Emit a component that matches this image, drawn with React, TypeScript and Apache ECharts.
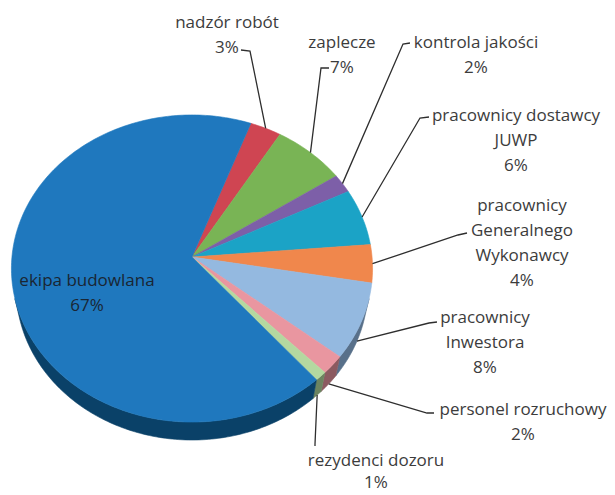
import React, { useEffect, useRef } from 'react';
import * as echarts from 'echarts';

// ---------- data ----------
const CATEGORIES = [
  'nadzór robót',
  'zaplecze',
  'kontrola jakości',
  'pracownicy dostawcy\nJUWP',
  'pracownicy\nGeneralnego\nWykonawcy',
  'pracownicy\nInwestora',
  'personel rozruchowy',
  'rezydenci dozoru',
  'ekipa budowlana',
];
const VALUES = [3, 7, 2, 6, 4, 8, 2, 1, 67];

// ---------- styles ----------
const TOP_COLORS = ['#cf4552', '#79b455', '#7d5fa8', '#1ba3c6', '#f0874c', '#94b9e0', '#e996a0', '#b4d8a0', '#1f78be'];
const SIDE_COLORS = ['#7a2230', '#466e30', '#4a3866', '#0f6078', '#93502b', '#58708a', '#8c5a60', '#6c8460', '#0a4168'];

// ---------- layout ----------
const START_DEG = 69.5; // angle where first slice starts (counter-clockwise from right, world)
const CX = 192;
const CY = 257;
const K = 1273;
const DIST = 7.07;
const SA = 0.848;
const CA = 0.53;
const THICK = 0.226;
const LINE_H = 25;
const FONT = '17px "Open Sans", "Liberation Sans", sans-serif';

// label layout: x = centre, y = centre of first line, leader = [start, elbow], low = anchor at bottom rim
const LABEL_LAYOUT = [
  { x: 227, y: 21, lh: LINE_H, leader: [[241, 50], [250, 51]], low: false },
  { x: 342, y: 41, lh: LINE_H, leader: [[329, 68], [321, 68]], low: false },
  { x: 476, y: 41, lh: LINE_H, leader: [[410, 43], [403, 44]], low: false },
  { x: 516, y: 114, lh: LINE_H, leader: [[429, 117], [420, 118]], low: false },
  { x: 522, y: 204, lh: LINE_H, leader: [[467, 233], [458, 235]], low: false },
  { x: 485, y: 316, lh: LINE_H, leader: [[437, 322], [429, 323]], low: true },
  { x: 523, y: 408, lh: LINE_H, leader: [[434, 413], [427, 413]], low: true },
  { x: 376, y: 459, lh: 22, leader: [[315, 446], [315, 444]], low: true },
  { x: 87, y: 279, lh: LINE_H, leader: null, low: false },
];

const TOTAL = VALUES.reduce((s, v) => s + v, 0);
const CUM: number[] = [];
VALUES.reduce((s, v, i) => {
  CUM[i] = s;
  return s + v;
}, 0);

function project(phiDeg: number, level: number): number[] {
  const p = (phiDeg * Math.PI) / 180;
  const X = Math.cos(p);
  const Z = Math.sin(p);
  const Y = -level * THICK;
  const depth = DIST - Y * SA + Z * CA;
  const up = Y * CA + Z * SA;
  return [CX + (K * X) / depth, CY - (K * up) / depth];
}

const VIS_LIM = (Math.asin(-1 / (DIST * CA)) * 180) / Math.PI; // ~ -15.5
const VIS_HI = VIS_LIM;
const VIS_LO = -180 - VIS_LIM;

function arc(from: number, to: number, level: number): number[][] {
  const pts: number[][] = [];
  const n = Math.max(2, Math.ceil(Math.abs(from - to) / 1));
  for (let j = 0; j <= n; j++) {
    pts.push(project(from + ((to - from) * j) / n, level));
  }
  return pts;
}

export default function App() {
  const ref = useRef<HTMLDivElement>(null);
  useEffect(() => {
    document.body.style.margin = '0';
    if (!ref.current) return;
    const chart = echarts.init(ref.current, undefined, { renderer: 'svg' });
    const renderItem = (params: any, api: any) => {
      const i = params.dataIndex;
      const v = api.value(0) as number;
      const a0 = START_DEG - (CUM[i] / TOTAL) * 360;
      const a1 = a0 - (v / TOTAL) * 360;
      const children: any[] = [];
      const hi = Math.min(a0, VIS_HI);
      const lo = Math.max(a1, VIS_LO);
      if (lo < hi) {
        const pts = arc(hi, lo, 0).concat(arc(lo, hi, 1));
        children.push({
          type: 'polygon',
          shape: { points: pts },
          style: { fill: SIDE_COLORS[i], stroke: SIDE_COLORS[i], lineWidth: 0.6 },
          z2: 1,
        });
      }
      const top = [[CX, CY]].concat(arc(a0, a1, 0));
      children.push({
        type: 'polygon',
        shape: { points: top },
        style: { fill: TOP_COLORS[i], stroke: TOP_COLORS[i], lineWidth: 0.6 },
        z2: 2,
      });
      const lay = LABEL_LAYOUT[i];
      const pct = Math.round((v / TOTAL) * 100) + '%';
      if (lay.leader) {
        const mid = (a0 + a1) / 2;
        const anchor = project(mid, lay.low ? 1 : 0);
        children.push({
          type: 'polyline',
          shape: { points: [lay.leader[0], lay.leader[1], anchor] },
          style: { stroke: '#2e2e2e', lineWidth: 1.3, fill: null },
          z2: 20,
        });
      }
      children.push({
        type: 'text',
        x: lay.x,
        y: lay.y - lay.lh / 2,
        style: {
          text: CATEGORIES[i] + '\n' + pct,
          font: FONT,
          fill: i === 8 ? '#1a2633' : '#3c3c3c',
          align: 'center',
          verticalAlign: 'top',
          lineHeight: lay.lh,
        },
        z2: 30,
      });
      return { type: 'group', children };
    };
    chart.setOption({
      animation: false,
      backgroundColor: '#ffffff',
      series: [
        {
          type: 'custom',
          coordinateSystem: 'none',
          silent: true,
          renderItem,
          data: VALUES.map((v) => [v]),
        },
      ],
    });
    return () => chart.dispose();
  }, []);
  return <div ref={ref} style={{ width: 615, height: 495 }} />;
}
